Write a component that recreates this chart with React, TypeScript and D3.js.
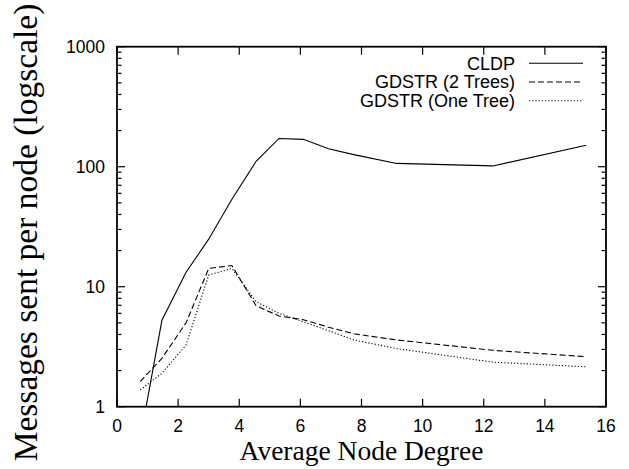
import React from "react";
import * as d3 from "d3";

const degrees = [0.76, 1.47, 2.26, 3.0, 3.76, 4.55, 5.3, 6.1, 6.92, 7.75, 9.15, 12.3, 15.35];
const cldp = [0.54, 5.25, 13.2, 24.9, 53.5, 111, 172, 169, 141, 126, 106.5, 101.5, 151];
const gdstr2 = [1.62, 2.53, 5.0, 14.2, 15.0, 6.95, 5.7, 5.3, 4.6, 4.05, 3.6, 2.95, 2.61];
const gdstr1 = [1.38, 1.9, 3.27, 12.5, 14.2, 7.5, 6.0, 5.1, 4.3, 3.6, 3.05, 2.35, 2.15];
const seriesNames = ["CLDP", "GDSTR (2 Trees)", "GDSTR (One Tree)"];
const xTicks = [0, 2, 4, 6, 8, 10, 12, 14, 16];
const yTicks = [1, 10, 100, 1000];

const W = 629, H = 469;
const L = 117, R = 606, T = 46.7, B = 406.7;

export default function App() {
  const x = d3.scaleLinear().domain([0, 16]).range([L, R]);
  const y = d3.scaleLog().domain([1, 1000]).range([B, T]);
  const series = [cldp, gdstr2, gdstr1];
  const dashes = ["none", "6,3", "1.2,2"];
  const line = (vals: number[]) =>
    d3.line<number>().x((_, i) => x(degrees[i])).y((v) => y(v))(vals) || "";
  const minor: number[] = [];
  for (let d = 1; d < 1000; d *= 10) for (let k = 2; k <= 9; k++) minor.push(d * k);
  const sans = "'Liberation Sans', Arial, sans-serif";
  const serif = "'Liberation Serif', 'Times New Roman', serif";
  return (
    <svg width={W} height={H} style={{ position: "absolute", left: 0, top: 0, background: "#fff" }}>
      <defs>
        <clipPath id="plot">
          <rect x={L} y={T} width={R - L} height={B - T} />
        </clipPath>
      </defs>
      {xTicks.map((t) => (
        <g key={"x" + t}>
          <line x1={x(t)} x2={x(t)} y1={B} y2={B - 8} stroke="#000" strokeWidth={1.2} />
          <line x1={x(t)} x2={x(t)} y1={T} y2={T + 8} stroke="#000" strokeWidth={1.2} />
          <text x={x(t)} y={432} textAnchor="middle" fontFamily={sans} fontSize={17.5}>{t}</text>
        </g>
      ))}
      {yTicks.map((t) => (
        <g key={"y" + t}>
          <line x1={L} x2={L + 8} y1={y(t)} y2={y(t)} stroke="#000" strokeWidth={1.2} />
          <line x1={R} x2={R - 8} y1={y(t)} y2={y(t)} stroke="#000" strokeWidth={1.2} />
          <text x={105} y={y(t) + 6} textAnchor="end" fontFamily={sans} fontSize={17.5}>{t}</text>
        </g>
      ))}
      {minor.map((t) => (
        <g key={"m" + t}>
          <line x1={L} x2={L + 4.5} y1={y(t)} y2={y(t)} stroke="#000" strokeWidth={1.2} />
          <line x1={R} x2={R - 4.5} y1={y(t)} y2={y(t)} stroke="#000" strokeWidth={1.2} />
        </g>
      ))}
      <rect x={L} y={T} width={R - L} height={B - T} fill="none" stroke="#000" strokeWidth={1.8} />
      <g clipPath="url(#plot)">
        {series.map((s, i) => (
          <path key={i} d={line(s)} fill="none" stroke="#000" strokeWidth={1.1} strokeDasharray={dashes[i]} />
        ))}
      </g>
      {seriesNames.map((n, i) => {
        const ly = 63.3 + i * 18.7;
        return (
          <g key={n}>
            <text x={515} y={ly + 6.3} textAnchor="end" fontFamily={sans} fontSize={18}>{n}</text>
            <line x1={529} x2={583} y1={ly} y2={ly} stroke="#000" strokeWidth={1.1} strokeDasharray={dashes[i]} />
          </g>
        );
      })}
      <text x={(L + R) / 2} y={460} textAnchor="middle" fontFamily={serif} fontSize={27.5}>Average Node Degree</text>
      <text transform="translate(37,232.5) rotate(-90)" textAnchor="middle" fontFamily={serif} fontSize={33.5}>
        Messages sent per node (logscale)
      </text>
    </svg>
  );
}
